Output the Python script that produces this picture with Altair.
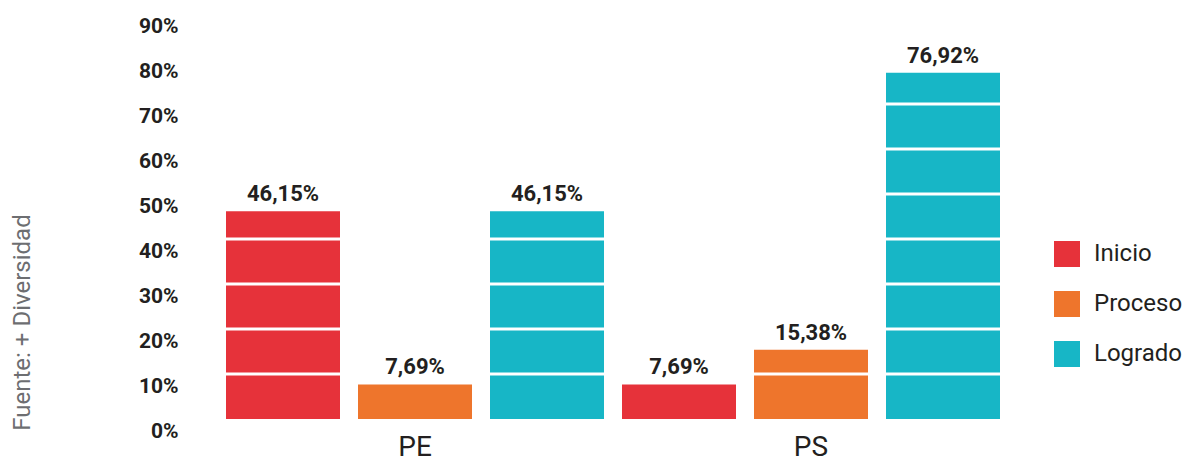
import altair as alt
import pandas as pd

grupos = ["PE", "PS"]
categorias = ["Inicio", "Proceso", "Logrado"]
colores = ["#E6323A", "#EE752C", "#17B6C6"]
valores_pe = [46.15, 7.69, 46.15]
valores_ps = [7.69, 15.38, 76.92]
y_ticks = [0, 10, 20, 30, 40, 50, 60, 70, 80, 90]

rows = []
for g, vals in zip(grupos, [valores_pe, valores_ps]):
    for c, v in zip(categorias, vals):
        rows.append({"grupo": g, "categoria": c, "valor": v,
                     "etiqueta": f"{v:.2f}".replace(".", ",") + "%"})
df = pd.DataFrame(rows)

lines = []
for r in rows:
    for t in y_ticks[1:]:
        if t < r["valor"]:
            lines.append({"grupo": r["grupo"], "categoria": r["categoria"], "nivel": t})
df_lines = pd.DataFrame(lines)

FONT = "Roboto"
TXT = "#231F20"

x_enc = alt.X("grupo:N", sort=grupos,
              scale=alt.Scale(paddingInner=0, paddingOuter=0),
              axis=alt.Axis(title=None, labelAngle=0, labelFontSize=28, labelFont=FONT,
                            labelColor=TXT, ticks=False, tickSize=0, domain=False,
                            grid=False, labelPadding=14))
xo_enc = alt.XOffset("categoria:N", sort=categorias,
                     scale=alt.Scale(paddingInner=18 / 132, paddingOuter=9 / 132))
y_scale = alt.Scale(domain=[0, 90], nice=False)

bars = alt.Chart(df).mark_bar().encode(
    x=x_enc,
    xOffset=xo_enc,
    y=alt.Y("valor:Q", scale=y_scale,
            axis=alt.Axis(values=y_ticks, labelExpr="datum.value + '%'",
                          grid=False, domain=False, ticks=False, tickSize=0,
                          labelFont=FONT, labelFontSize=21, labelFontWeight="bold",
                          labelColor=TXT, labelPadding=39, labelOffset=12,
                          title="Fuente: + Diversidad", titleFont=FONT,
                          titleFontSize=24, titleFontWeight="normal",
                          titleColor="#6D6E71", titleAngle=270,
                          titleX=-195, titleY=308, titleAlign="center",
                          titleBaseline="middle")),
    color=alt.Color("categoria:N", sort=categorias,
                    scale=alt.Scale(domain=categorias, range=colores),
                    legend=alt.Legend(title=None, orient="none", legendX=837, legendY=227,
                                      symbolType="square", symbolSize=676,
                                      symbolStrokeWidth=0, labelFont=FONT,
                                      labelFontSize=24, labelColor=TXT,
                                      labelOffset=14, rowPadding=24, padding=0)),
)

ticks = alt.Chart(df_lines).mark_tick(color="white", thickness=3, size=114, opacity=1).encode(
    x=alt.X("grupo:N", sort=grupos),
    xOffset=alt.XOffset("categoria:N", sort=categorias),
    y=alt.Y("nivel:Q", scale=y_scale),
)

text = alt.Chart(df).mark_text(baseline="bottom", dy=-5, font=FONT, fontSize=22,
                               fontWeight="bold", color=TXT).encode(
    x=alt.X("grupo:N", sort=grupos),
    xOffset=alt.XOffset("categoria:N", sort=categorias),
    y=alt.Y("valor:Q", scale=y_scale),
    text="etiqueta:N",
)

chart = alt.layer(bars, ticks, text).properties(
    width=792, height=405,
    background="white",
    padding={"left": 209, "top": 6, "right": 182, "bottom": 44},
    autosize=alt.AutoSizeParams(type="none"),
).configure_view(stroke="transparent", strokeWidth=0).configure_axis(
    grid=False, domain=False
)

chart.save("out.html", embed_options={"renderer": "svg", "actions": False})
